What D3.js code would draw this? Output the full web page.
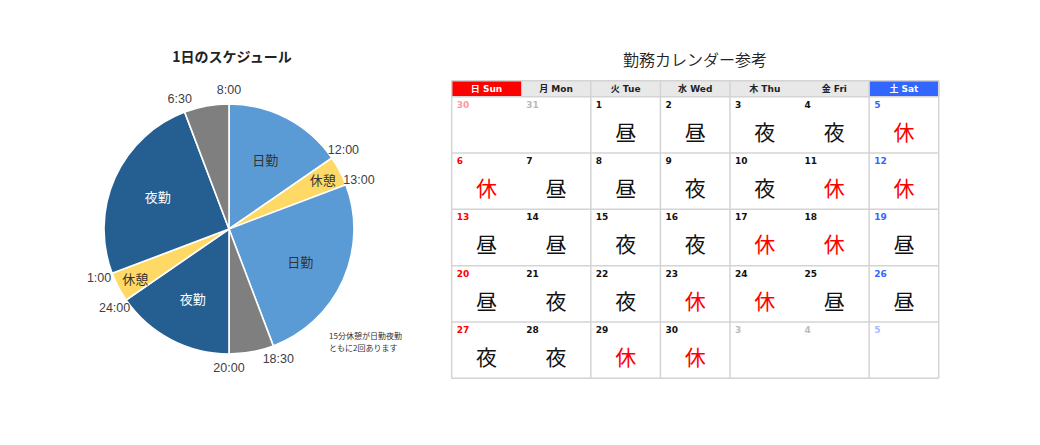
<!DOCTYPE html>
<html><head><meta charset="utf-8">
<script src="https://cdn.jsdelivr.net/npm/d3@7"></script>
<style>
html,body{margin:0;padding:0;background:#fff;}
svg{display:block;}
text{font-family:"Noto Sans CJK JP","Noto Sans",sans-serif;}
</style></head>
<body>
<svg id="c" width="1040" height="445"></svg>
<script>
// ---- Pie data ----
const sliceNames = ["日勤","休憩","日勤","","夜勤","休憩","夜勤",""];
const sliceKinds = ["day","rest","day","off","night","rest","night","off"];
const sliceValues = [4,1,6.5,1.5,4,1,6.5,1.5];
const boundaryTimes = ["8:00","12:00","13:00","18:30","20:00","24:00","1:00","6:30"];
const pieTitle = "1日のスケジュール";
const noteLines = ["15分休憩が日勤夜勤","ともに2回あります"];

// ---- Calendar data ----
const calTitle = "勤務カレンダー参考";
const weekdays = ["日 Sun","月 Mon","火 Tue","水 Wed","木 Thu","金 Fri","土 Sat"];
const calDays = [
  [30,31,1,2,3,4,5],
  [6,7,8,9,10,11,12],
  [13,14,15,16,17,18,19],
  [20,21,22,23,24,25,26],
  [27,28,29,30,3,4,5]
];
const outside = [
  [1,1,0,0,0,0,0],
  [0,0,0,0,0,0,0],
  [0,0,0,0,0,0,0],
  [0,0,0,0,0,0,0],
  [0,0,0,0,1,1,1]
];
const shifts = [
  ["","","昼","昼","夜","夜","休"],
  ["休","昼","昼","夜","夜","休","休"],
  ["昼","昼","夜","夜","休","休","昼"],
  ["昼","夜","夜","休","休","昼","昼"],
  ["夜","夜","休","休","","",""]
];

const svg = d3.select("#c");

// ================= PIE =================
const colors = {day:"#5B9BD5", rest:"#FFD966", night:"#255E91", off:"#7F7F7F"};
const cx = 229, cy = 229, R = 125;
const g = svg.append("g").attr("transform",`translate(${cx},${cy})`);
const pie = d3.pie().sort(null).value(d=>d.v).startAngle(0).endAngle(2*Math.PI);
const data = sliceValues.map((v,i)=>({v, name:sliceNames[i], kind:sliceKinds[i], t:boundaryTimes[i]}));
const arcs = pie(data);
const arc = d3.arc().innerRadius(0).outerRadius(R);
g.selectAll("path.s").data(arcs).join("path")
  .attr("d",arc).attr("fill",d=>colors[d.data.kind])
  .attr("stroke","#fff").attr("stroke-width",1.6);

const labelArcBig = d3.arc().innerRadius(78).outerRadius(78);
const labelArcSmall = d3.arc().innerRadius(106).outerRadius(106);
g.selectAll("text.sl").data(arcs.filter(d=>d.data.name)).join("text")
  .attr("transform",d=>{
    const a = d.data.kind==="rest" ? labelArcSmall : labelArcBig;
    const c = a.centroid(d); return `translate(${c[0]},${c[1]})`;})
  .attr("text-anchor","middle").attr("dominant-baseline","central")
  .attr("font-size",13)
  .attr("fill",d=>d.data.kind==="night"?"#fff":"#333")
  .text(d=>d.data.name);

const tr = 139;
g.selectAll("text.tl").data(arcs).join("text")
  .attr("x",d=>tr*Math.sin(d.startAngle))
  .attr("y",d=>-tr*Math.cos(d.startAngle))
  .attr("text-anchor","middle").attr("dominant-baseline","central")
  .attr("font-size",12.5).attr("fill","#404040")
  .style("font-family","'Liberation Sans',Arial,sans-serif")
  .text(d=>d.data.t);

svg.append("text").attr("x",232).attr("y",56).attr("text-anchor","middle")
  .attr("dominant-baseline","central").attr("font-size",14).attr("font-weight","bold")
  .attr("fill","#222").text(pieTitle);

svg.selectAll("text.note").data(noteLines).join("text")
  .attr("x",329).attr("y",(d,i)=>335+i*12).attr("dominant-baseline","central")
  .attr("font-size",8).attr("fill","#333").text(d=>d);

// ================= CALENDAR =================
const left = 451.7, right = 938.7;
const x = d3.scaleBand().domain(d3.range(7)).range([left,right]);
const headTop = 80.7, headBot = 96.7, bottom = 378.3;
const y = d3.scaleBand().domain(d3.range(5)).range([headBot,bottom]);
const cw = x.bandwidth(), rh = y.bandwidth();

svg.append("text").attr("x",695).attr("y",59).attr("text-anchor","middle")
  .attr("dominant-baseline","central").attr("font-size",16).attr("fill","#222")
  .style("font-weight",350)
  .text(calTitle);

const headFill = i => i===0?"#FF0000":(i===6?"#3366FF":"#E8E8E8");
svg.selectAll("rect.h").data(weekdays).join("rect")
  .attr("x",(d,i)=>x(i)).attr("y",headTop).attr("width",cw+0.5).attr("height",headBot-headTop)
  .attr("fill",(d,i)=>headFill(i));
svg.selectAll("text.h").data(weekdays).join("text")
  .attr("x",(d,i)=>x(i)+cw/2).attr("y",(headTop+headBot)/2)
  .attr("text-anchor","middle").attr("dominant-baseline","central")
  .attr("font-size",9).attr("font-weight","bold")
  .style("font-family","'DejaVu Sans','Noto Sans CJK JP',sans-serif")
  .attr("fill",(d,i)=>(i===0||i===6)?"#fff":"#222")
  .text(d=>d);

// grid lines
const lineC = "#D4D4D4";
const hy = [headTop, headBot].concat(d3.range(1,6).map(r=>headBot+r*rh));
svg.selectAll("line.hz").data(hy).join("line")
  .attr("x1",left).attr("x2",right).attr("y1",d=>d).attr("y2",d=>d)
  .attr("stroke",lineC).attr("stroke-width",1.5);
const vcols = [0,2,3,4,6,7];
svg.selectAll("line.vt").data(vcols).join("line")
  .attr("x1",d=>left+d*cw).attr("x2",d=>left+d*cw).attr("y1",headTop).attr("y2",bottom)
  .attr("stroke",lineC).attr("stroke-width",1.5);

const cells = [];
calDays.forEach((row,r)=>row.forEach((d,c)=>cells.push({r,c,d,out:outside[r][c],s:shifts[r][c]})));
const numColor = c => {
  if(c.out){ return c.c===0?"#FF9A9A":(c.c===6?"#A9B9FF":"#BBBBBB"); }
  return c.c===0?"#FF0000":(c.c===6?"#3366FF":"#111");
};
svg.selectAll("text.dn").data(cells).join("text")
  .attr("x",c=>x(c.c)+5).attr("y",c=>y(c.r)+8)
  .attr("dominant-baseline","central")
  .attr("font-size",9).attr("font-weight","bold")
  .style("font-family","'DejaVu Sans',Verdana,sans-serif")
  .attr("fill",numColor).text(c=>c.d);
svg.selectAll("text.sh").data(cells.filter(c=>c.s)).join("text")
  .attr("x",c=>x(c.c)+cw/2).attr("y",c=>y(c.r)+34)
  .attr("text-anchor","middle").attr("dominant-baseline","central")
  .attr("font-size",21)
  .attr("fill",c=>c.s==="休"?"#FF0000":"#111").text(c=>c.s);
</script>
</body></html>
